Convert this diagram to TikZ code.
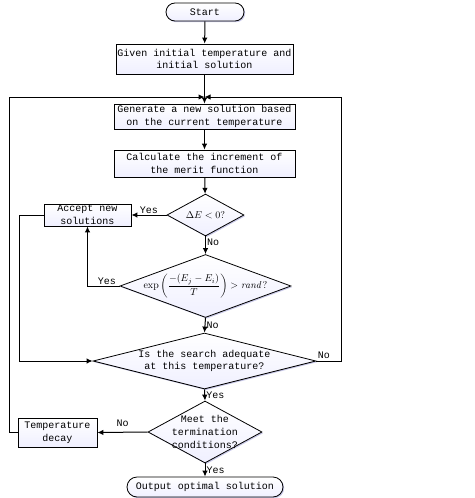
\documentclass[tikz,border=0pt]{standalone}
\usepackage{amsmath}
\usepackage{fontspec}
\setmonofont{Liberation Mono}
\usetikzlibrary{shapes,shadows,arrows.meta}
\tikzstyle{txt}=[font=\ttfamily\fontsize{10}{12.8}\selectfont]
\tikzstyle{shade}=[top color=white, bottom color=blue!6, drop shadow={opacity=.3, fill=blue!40!gray, shadow xshift=1.2pt, shadow yshift=-1.2pt}]
\tikzstyle{box}=[rectangle, draw, line width=.8pt, shade, txt, align=center, inner sep=1pt]
\tikzstyle{term}=[box, rounded corners=9pt]
\tikzstyle{dec}=[diamond, draw, line width=.8pt, shade, inner sep=0pt]
\tikzstyle{flow}=[draw, line width=1pt, -{Latex[length=6pt, width=5.5pt]}]
\tikzstyle{lab}=[txt, inner sep=1pt]

\begin{document}
\begin{tikzpicture}[x=1pt, y=-1pt]
	\useasboundingbox (0,0) rectangle (474,498);
	% boxes
	\node[term, minimum width=78pt, minimum height=18pt] (start) at (205,12) {Start};
	\node[box, minimum width=177pt, minimum height=30pt] (init) at (204.5,59) {Given initial temperature and\\initial solution};
	\node[box, minimum width=181pt, minimum height=25pt] (gen) at (204.5,116.5) {Generate a new solution based\\on the current temperature};
	\node[box, minimum width=181pt, minimum height=27pt] (calc) at (204.5,163.5) {Calculate the increment of\\the merit function};
	\node[dec, minimum width=77pt, minimum height=42pt, label=center:{$\Delta E<0$?}] (dE) at (205.5,215) {};
	\node[box, minimum width=87pt, minimum height=22pt] (accept) at (87.5,215) {Accept new\\solutions};
	\node[dec, minimum width=171pt, minimum height=63pt, label=center:{$\exp\left(\dfrac{-(E_j-E_i)}{T}\right)>\mathit{rand}\,?$}] (expd) at (205.5,286) {};
	\node[dec, minimum width=223pt, minimum height=56pt, label={[txt, align=center]center:Is the search adequate\\at this temperature?}] (search) at (204.5,361) {};
	\node[dec, minimum width=114pt, minimum height=62pt, label={[txt, align=center]center:Meet the\\termination\\conditions?}] (meet) at (205,432) {};
	\node[box, minimum width=79pt, minimum height=29pt] (decay) at (57.5,432.5) {Temperature\\decay};
	\node[term, rounded corners=10pt, minimum width=156pt, minimum height=20pt] (out) at (205,487) {Output optimal solution};
	\coordinate (join) at (204.5,97);

	% connectors
	\draw[flow] (start) -- (init);
	\draw[flow] (init) -- (gen);
	\draw[flow] (gen) -- (calc);
	\draw[flow] (calc) -- (dE);
	\draw[flow] (dE.west) -- node[lab, above] (yes1) {Yes} (accept.east);
	\draw[flow] (dE.south) -- node[lab, right, pos=.35] (no1) {No} (expd.north);
	\draw[flow] (expd.west) -| node[lab, above, pos=.2] (yes2) {Yes} (accept.south);
	\draw[flow] (expd.south) -- node[lab, right] (no2) {No} (search.north);
	\draw[flow] (accept.west) -- ++(-24,0) |- (search.west);
	\draw[flow] (search.east) -- node[lab, above, pos=.3, yshift=1pt] (no3) {No} ++(25,0) |- (join);
	\draw[flow] (search.south) -- node[lab, right] (yes3) {Yes} (meet.north);
	\draw[flow] (meet.west) -- node[lab, above, yshift=4pt] (no4) {No} (decay.east);
	\draw[flow] (decay.west) -- ++(-8,0) |- (join);
	\draw[flow] (meet.south) -- node[lab, right] (yes4) {Yes} (out.north);
\end{tikzpicture}
\end{document}
